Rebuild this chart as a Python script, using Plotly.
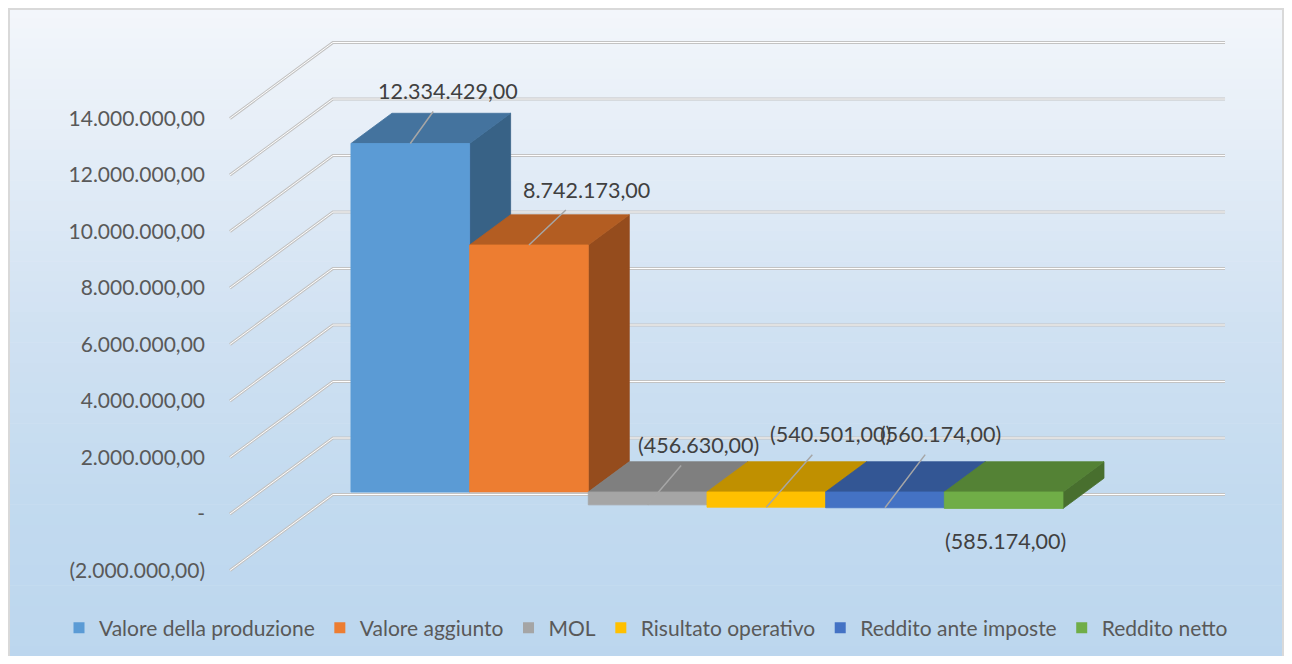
import plotly.graph_objects as go

# ---------------- data ----------------
categories = ["Valore della produzione", "Valore aggiunto", "MOL",
              "Risultato operativo", "Reddito ante imposte", "Reddito netto"]
values = [12334429.00, 8742173.00, -456630.00, -540501.00, -560174.00, -585174.00]
tick_values = [-2000000, 0, 2000000, 4000000, 6000000, 8000000, 10000000, 12000000, 14000000]

# ---------------- style ----------------
front_colors = ["#5B9BD5", "#ED7D31", "#A5A5A5", "#FFC000", "#4472C4", "#70AD47"]
top_colors = ["#44739E", "#B35D22", "#7F7F7F", "#C09000", "#335694", "#548235"]
side_colors = ["#386286", "#954C1D", "#6E6E6E", "#A67C00", "#2B4A80", "#486F2E"]
# label text offsets in pixels (ax, ay) relative to the data point
label_offsets = [(38, -53), (58, -55), (51, -60), (64, -73), (56, -74), (2, 33)]
label_lines = [True, True, True, True, True, False]

FONT = "Lato"
TICK_COLOR = "#595959"
LABEL_COLOR = "#404040"

# figure size (page has an 8px body margin)
W, H = 1276, 648
OFF = 8

# oblique 3D projection parameters (axis units)
DX = 0.868          # x-units for full depth of the wall
DY = 2.69e6         # value-units for full depth of the wall
D_FRONT, D_BACK = 0.29, 0.688   # depth span of the columns
C_LEFT, C_RIGHT = -0.768, 6.749  # side wall / right end of back wall
X_RANGE = [-2.638, 8.114]
Y_RANGE = [-5.027e6, 17.912e6]


def proj(c, v, d):
    return c + d * DX, v + d * DY


def poly(points):
    xs, ys = [], []
    for c, v, d in points:
        x, y = proj(c, v, d)
        xs.append(x)
        ys.append(y)
    xs.append(xs[0])
    ys.append(ys[0])
    return xs, ys


def fmt(v):
    if v == 0:
        return "-"
    s = f"{abs(v):,.2f}".replace(",", "X").replace(".", ",").replace("X", ".")
    return f"({s})" if v < 0 else s


fig = go.Figure()

# ---------------- walls gridlines ----------------
for t in tick_values:
    x0, y0 = proj(C_LEFT, t, 0)
    x1, y1 = proj(C_LEFT, t, 1)
    x2, y2 = proj(C_RIGHT, t, 1)
    for col, w in (("#C3C3C3", 3), ("#FFFFFF", 1)):
        fig.add_trace(go.Scatter(x=[x0, x1, x2], y=[y0, y1, y2], mode="lines",
                                 line=dict(color=col, width=w), showlegend=False,
                                 hoverinfo="skip"))

# ---------------- columns ----------------
for i, v in enumerate(values):
    lo, hi = min(0, v), max(0, v)
    side = poly([(i + 1, lo, D_FRONT), (i + 1, lo, D_BACK), (i + 1, hi, D_BACK), (i + 1, hi, D_FRONT)])
    top = poly([(i, hi, D_FRONT), (i + 1, hi, D_FRONT), (i + 1, hi, D_BACK), (i, hi, D_BACK)])
    front = poly([(i, lo, D_FRONT), (i + 1, lo, D_FRONT), (i + 1, hi, D_FRONT), (i, hi, D_FRONT)])
    for (xs, ys), col in ((side, side_colors[i]), (top, top_colors[i]), (front, front_colors[i])):
        fig.add_trace(go.Scatter(x=xs, y=ys, mode="lines", fill="toself", fillcolor=col,
                                 line=dict(color=col, width=0.8), showlegend=False,
                                 hoverinfo="skip"))

# legend entries
for i, name in enumerate(categories):
    fig.add_trace(go.Scatter(x=[None], y=[None], mode="markers", name=name,
                             marker=dict(symbol="square", size=11, color=front_colors[i])))

# ---------------- data labels ----------------
for i, v in enumerate(values):
    px, py = proj(i + 0.5, v, D_FRONT)
    ax, ay = label_offsets[i]
    fig.add_annotation(x=px, y=py, xref="x", yref="y", text=fmt(v),
                       showarrow=True, arrowhead=0, ax=ax, ay=ay,
                       arrowcolor="#A6A6A6" if label_lines[i] else "rgba(0,0,0,0)",
                       arrowwidth=1.5, startstandoff=8,
                       font=dict(family=FONT, size=21.5, color=LABEL_COLOR))

# ---------------- background gradient ----------------
stops = [(0, (244, 247, 251)), (150, (228, 237, 247)), (330, (208, 225, 242)),
         (500, (194, 218, 239)), (664, (188, 214, 238))]


def grad(py):
    for (a, ca), (b, cb) in zip(stops[:-1], stops[1:]):
        if a <= py <= b:
            t = (py - a) / (b - a)
            return tuple(round(ca[k] + (cb[k] - ca[k]) * t) for k in range(3))
    return stops[-1][1]


shapes = []
n = 64
for k in range(n):
    ya = H * k / n
    yb = H * (k + 1) / n
    r, g, b = grad((ya + yb) / 2 + OFF)
    shapes.append(dict(type="rect", xref="paper", yref="paper", layer="below",
                       x0=0, x1=1, y0=1 - yb / H - 0.001, y1=1 - ya / H,
                       fillcolor=f"rgb({r},{g},{b})", line=dict(width=0)))
shapes.append(dict(type="rect", xref="paper", yref="paper", layer="below",
                   x0=1 / W, x1=1 - 1 / W, y0=-0.01, y1=1 - 1 / H,
                   fillcolor="rgba(0,0,0,0)", line=dict(color="#D9D9D9", width=2)))

fig.update_layout(
    width=W, height=H, autosize=False,
    margin=dict(l=0, r=0, t=0, b=0),
    paper_bgcolor="white", plot_bgcolor="rgba(0,0,0,0)",
    hovermode=False,
    shapes=shapes,
    xaxis=dict(range=X_RANGE, visible=False, fixedrange=True, domain=[0, 1]),
    yaxis=dict(range=Y_RANGE, showgrid=False, zeroline=False, showline=False,
               ticks="", tickvals=tick_values, ticktext=[fmt(t) for t in tick_values],
               tickfont=dict(family=FONT, size=21, color=TICK_COLOR),
               anchor="free", position=197 / W, fixedrange=True),
    legend=dict(orientation="h", x=0.5, xanchor="center", y=1 - (628 - OFF) / H, yanchor="middle",
                font=dict(family=FONT, size=21, color=TICK_COLOR),
                bgcolor="rgba(0,0,0,0)", itemclick=False, itemdoubleclick=False,
                tracegroupgap=0, itemwidth=30),
)

fig.write_html("out.html")
